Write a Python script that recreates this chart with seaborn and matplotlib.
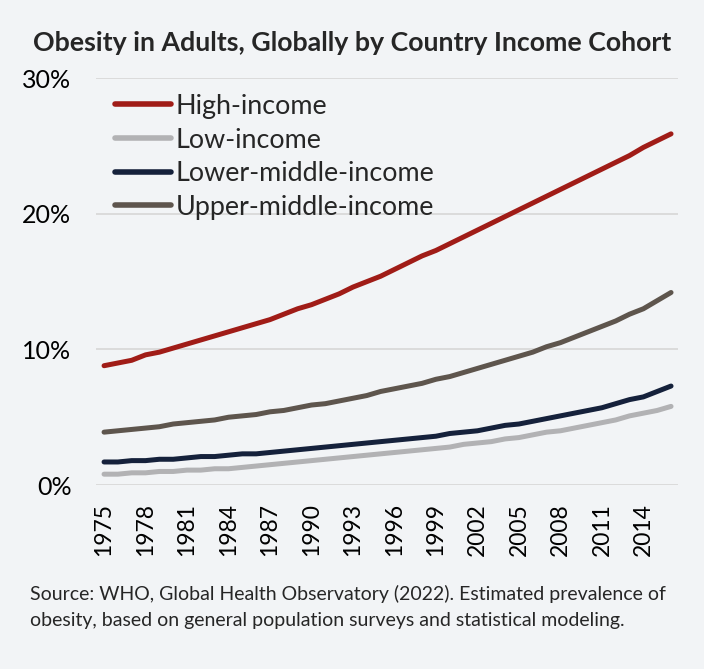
import matplotlib
matplotlib.use("Agg")
import matplotlib.pyplot as plt
import seaborn as sns
import pandas as pd
import numpy as np
from matplotlib.ticker import FuncFormatter

years = list(range(1975, 2017))
high_income = [8.8, 9.0, 9.2, 9.6, 9.8, 10.1, 10.4, 10.7, 11.0, 11.3, 11.6, 11.9, 12.2, 12.6,
               13.0, 13.3, 13.7, 14.1, 14.6, 15.0, 15.4, 15.9, 16.4, 16.9, 17.3, 17.8, 18.3,
               18.8, 19.3, 19.8, 20.3, 20.8, 21.3, 21.8, 22.3, 22.8, 23.3, 23.8, 24.3, 24.9,
               25.4, 25.9]
low_income = [0.8, 0.8, 0.9, 0.9, 1.0, 1.0, 1.1, 1.1, 1.2, 1.2, 1.3, 1.4, 1.5, 1.6, 1.7, 1.8,
              1.9, 2.0, 2.1, 2.2, 2.3, 2.4, 2.5, 2.6, 2.7, 2.8, 3.0, 3.1, 3.2, 3.4, 3.5, 3.7,
              3.9, 4.0, 4.2, 4.4, 4.6, 4.8, 5.1, 5.3, 5.5, 5.8]
lower_middle_income = [1.7, 1.7, 1.8, 1.8, 1.9, 1.9, 2.0, 2.1, 2.1, 2.2, 2.3, 2.3, 2.4, 2.5,
                       2.6, 2.7, 2.8, 2.9, 3.0, 3.1, 3.2, 3.3, 3.4, 3.5, 3.6, 3.8, 3.9, 4.0,
                       4.2, 4.4, 4.5, 4.7, 4.9, 5.1, 5.3, 5.5, 5.7, 6.0, 6.3, 6.5, 6.9, 7.3]
upper_middle_income = [3.9, 4.0, 4.1, 4.2, 4.3, 4.5, 4.6, 4.7, 4.8, 5.0, 5.1, 5.2, 5.4, 5.5,
                       5.7, 5.9, 6.0, 6.2, 6.4, 6.6, 6.9, 7.1, 7.3, 7.5, 7.8, 8.0, 8.3, 8.6,
                       8.9, 9.2, 9.5, 9.8, 10.2, 10.5, 10.9, 11.3, 11.7, 12.1, 12.6, 13.0,
                       13.6, 14.2]
series_names = ["High-income", "Low-income", "Lower-middle-income", "Upper-middle-income"]
series_colors = ["#A01C17", "#B2B2B4", "#15213B", "#5E554D"]
tick_years = list(range(1975, 2016, 3))
y_ticks = [0, 10, 20, 30]

title = "Obesity in Adults, Globally by Country Income Cohort"
source_line1 = "Source: WHO, Global Health Observatory (2022). Estimated prevalence of"
source_line2 = "obesity, based on general population surveys and statistical modeling."

frames = []
for name, vals in zip(series_names, [high_income, low_income, lower_middle_income, upper_middle_income]):
    frames.append(pd.DataFrame({"Year": years, "Value": vals, "Series": name}))
df = pd.concat(frames, ignore_index=True)

sns.set_theme(style="white")
plt.rcParams["font.family"] = ["Lato", "DejaVu Sans"]
bg = "#F2F4F6"

fig = plt.figure(figsize=(7.04, 6.69), dpi=100, facecolor=bg)
ax = fig.add_axes([0.137, 0.275, 0.826, 0.608], facecolor=bg)

sns.lineplot(data=df, x="Year", y="Value", hue="Series", hue_order=series_names,
             palette=series_colors, linewidth=3.6, ax=ax, legend=True,
             solid_capstyle="round")

ax.set_xlim(1974.45, 2016.5)
ax.set_ylim(0, 30)
ax.set_yticks(y_ticks)
ax.yaxis.set_major_formatter(FuncFormatter(lambda v, p: f"{int(v)}%"))
ax.set_xticks(tick_years)
ax.set_xticklabels([str(y) for y in tick_years], rotation=90)
ax.tick_params(axis="y", labelsize=18, length=0, pad=18, colors="black")
ax.tick_params(axis="x", labelsize=16.5, length=0, pad=13, colors="black")
ax.grid(axis="y", color="#D9D9D9", linewidth=1.3)
ax.set_axisbelow(True)
for s in ax.spines.values():
    s.set_visible(False)
ax.set_xlabel("")
ax.set_ylabel("")

leg = ax.legend(loc="upper left", bbox_to_anchor=(0.0, 1.008), frameon=False,
                fontsize=19.4, handlelength=2.05, handletextpad=0.2, labelspacing=0.32,
                borderaxespad=0.3)
for h in leg.get_lines():
    h.set_linewidth(4)

fig.text(0.5, 0.936, title, ha="center", va="center", fontsize=19.3, fontweight="bold")
fig.text(0.042, 1 - 600 / 669, source_line1, ha="left", va="baseline", fontsize=14)
fig.text(0.042, 1 - 626 / 669, source_line2, ha="left", va="baseline", fontsize=14)

fig.savefig("out.png", dpi=100, facecolor=bg)
